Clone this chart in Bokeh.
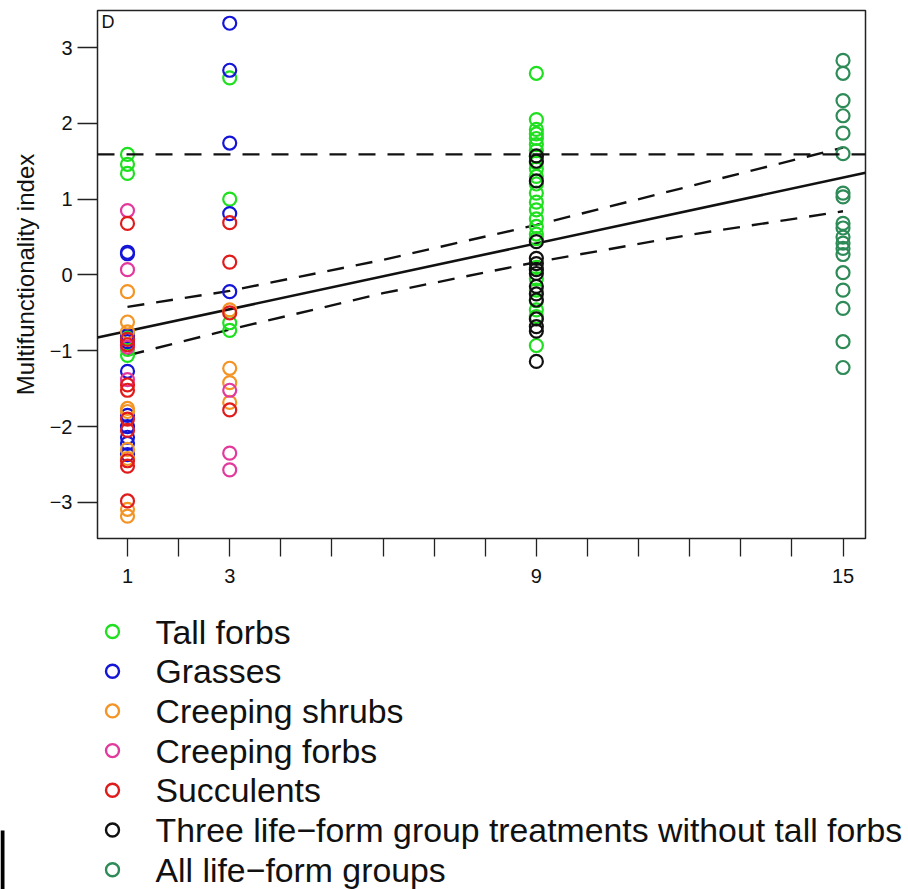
from bokeh.plotting import figure
from bokeh.layouts import column
from bokeh.models import FixedTicker, Span, Label, Range1d
from bokeh.core.properties import value
from bokeh.embed import file_html
from bokeh.resources import INLINE

# Multifunctionality index by number of life-form groups sown (1, 3, 9, 15)
group_names = [
    "Tall forbs",
    "Grasses",
    "Creeping shrubs",
    "Creeping forbs",
    "Succulents",
    "Three life\u2212form group treatments without tall forbs",
    "All life\u2212form groups",
]
group_colors = ["#1EE01E", "#1515D8", "#F39425", "#E23A9C", "#E01B1B", "#111111", "#2E8B57"]

# observed values per group, keyed by richness level
tall_forbs = {
    1: [1.59, 1.46, 1.34, -0.83, -0.98, -1.06],
    3: [2.60, 1.00, -0.63, -0.73],
    9: [2.66, 2.05, 1.92, 1.86, 1.80, 1.72, 1.64, 1.56, 1.48, 1.40, 1.30, 1.20, 1.08,
        0.96, 0.86, 0.74, 0.64, 0.54, 0.48, 0.10, -0.05, -0.20, -0.34, -0.46, -0.55, -0.93],
}
grasses = {
    1: [0.30, 0.28, -0.80, -0.88, -1.27, -1.85, -2.00, -2.14, -2.22, -2.37],
    3: [3.32, 2.70, 1.74, 0.81, -0.22],
}
creeping_shrubs = {
    1: [-0.22, -0.62, -0.75, -1.76, -1.80, -2.30, -2.42, -3.09, -3.18],
    3: [-0.46, -1.23, -1.42, -1.68],
}
creeping_forbs = {
    1: [0.85, 0.07, -1.38, -0.95],
    3: [-1.52, -2.35, -2.57],
}
succulents = {
    1: [0.68, -0.85, -0.92, -1.45, -1.52, -1.90, -2.05, -2.45, -2.52, -2.98],
    3: [0.69, 0.17, -0.50, -1.78],
}
three_groups_no_tall = {
    9: [1.57, 1.50, 1.24, 0.44, 0.22, 0.15, 0.07, 0.02, -0.15, -0.25, -0.33,
        -0.58, -0.68, -0.74, -1.14],
}
all_groups = {
    15: [2.83, 2.66, 2.30, 2.10, 1.87, 1.60, 1.08, 1.03, 0.68, 0.62, 0.50, 0.42,
         0.35, 0.27, 0.03, -0.20, -0.44, -0.88, -1.22],
}
series = [tall_forbs, grasses, creeping_shrubs, creeping_forbs, succulents,
          three_groups_no_tall, all_groups]

# linear fit and its confidence band
fit_intercept = -0.885
fit_slope = 0.1446
ci_x = [1, 3, 6, 9, 12, 15]
ci_upper = [-0.42, -0.21, 0.20, 0.66, 1.17, 1.68]
ci_lower = [-1.06, -0.72, -0.24, 0.17, 0.53, 0.84]
reference_level = 1.59

x_ticks = list(range(1, 16))
x_tick_labels = {1: "1", 3: "3", 9: "9", 15: "15"}
y_ticks = [-3, -2, -1, 0, 1, 2, 3]

FONT = "Liberation Sans"
FRAME_LEFT, FRAME_RIGHT = 97, 865

p = figure(width=908, height=600,
           x_range=Range1d(0.413, 15.44), y_range=Range1d(-3.475, 3.488),
           output_backend="svg", toolbar_location=None,
           min_border_left=FRAME_LEFT, min_border_right=908 - FRAME_RIGHT,
           min_border_top=10, min_border_bottom=62)
p.frame_align = False
p.grid.visible = False
p.outline_line_color = "#222222"
p.outline_line_width = 1.5
p.background_fill_color = "white"
p.border_fill_color = "white"

# axes
p.xaxis.ticker = FixedTicker(ticks=x_ticks)
p.xaxis.major_label_overrides = {t: x_tick_labels.get(t, "") for t in x_ticks}
p.yaxis.ticker = FixedTicker(ticks=y_ticks)
p.yaxis.major_label_overrides = {t: (str(t) if t >= 0 else "\u2212" + str(-t)) for t in y_ticks}
for ax in (p.xaxis[0], p.yaxis[0]):
    ax.axis_line_color = None
    ax.minor_tick_line_color = None
    ax.major_tick_in = 0
    ax.major_tick_line_color = "#222222"
    ax.major_tick_line_width = 1.3
    ax.major_label_text_font = FONT
    ax.major_label_text_font_size = "20px"
    ax.major_label_text_color = "#111111"
p.xaxis.major_tick_out = 18
p.xaxis.major_label_standoff = 12
p.yaxis.major_tick_out = 20
p.yaxis.major_label_standoff = 5
p.yaxis.axis_label = "Multifunctionality index"
p.yaxis.axis_label_text_font = FONT
p.yaxis.axis_label_text_font_size = "24px"
p.yaxis.axis_label_text_font_style = "normal"
p.yaxis.axis_label_text_color = "#111111"
p.yaxis.axis_label_standoff = 8

# reference level and fitted line with confidence band
p.add_layout(Span(location=reference_level, dimension="width", line_color="#111111",
                  line_width=2.4, line_dash="17 12"))
x0, x1 = p.x_range.start, p.x_range.end
p.line([x0, x1], [fit_intercept + fit_slope * x0, fit_intercept + fit_slope * x1],
       line_color="#111111", line_width=2.6)
p.line(ci_x, ci_upper, line_color="#111111", line_width=2.4, line_dash="17 12")
p.line(ci_x, ci_lower, line_color="#111111", line_width=2.4, line_dash="17 12")

# points
for data, color in zip(series, group_colors):
    xs, ys = [], []
    for level, vals in data.items():
        xs += [level] * len(vals)
        ys += vals
    p.scatter(xs, ys, marker="circle", size=13, fill_color=None,
              line_color=color, line_width=2.2)

p.add_layout(Label(x=0.49, y=3.468, text="D", text_font=FONT,
                   text_font_size="18px", text_baseline="top", text_color="#111111"))

# legend panel: its data coordinates are page pixels (x across, y down)
lg = figure(width=908, height=289,
            x_range=Range1d(0, 908), y_range=Range1d(289, 0),
            output_backend="svg", toolbar_location=None,
            x_axis_type=None, y_axis_type=None, min_border=0)
lg.frame_align = False
lg.grid.visible = False
lg.outline_line_color = None
lg.background_fill_color = "white"
lg.border_fill_color = "white"

row_y = [31 + 39.7 * i for i in range(len(group_names))]
lg.scatter([112] * len(group_names), row_y, marker="circle", size=13, fill_color=None,
           line_color=group_colors, line_width=2.4)
lg.text([155] * len(group_names), row_y, text=group_names, text_font=value(FONT),
        text_font_size="33.8px", text_baseline="middle", text_color="#111111")
lg.quad(left=[0], right=[4], top=[230], bottom=[289], fill_color="black", line_color=None)

layout = column(p, lg, spacing=0)
open("out.html", "w").write(file_html(layout, INLINE))
